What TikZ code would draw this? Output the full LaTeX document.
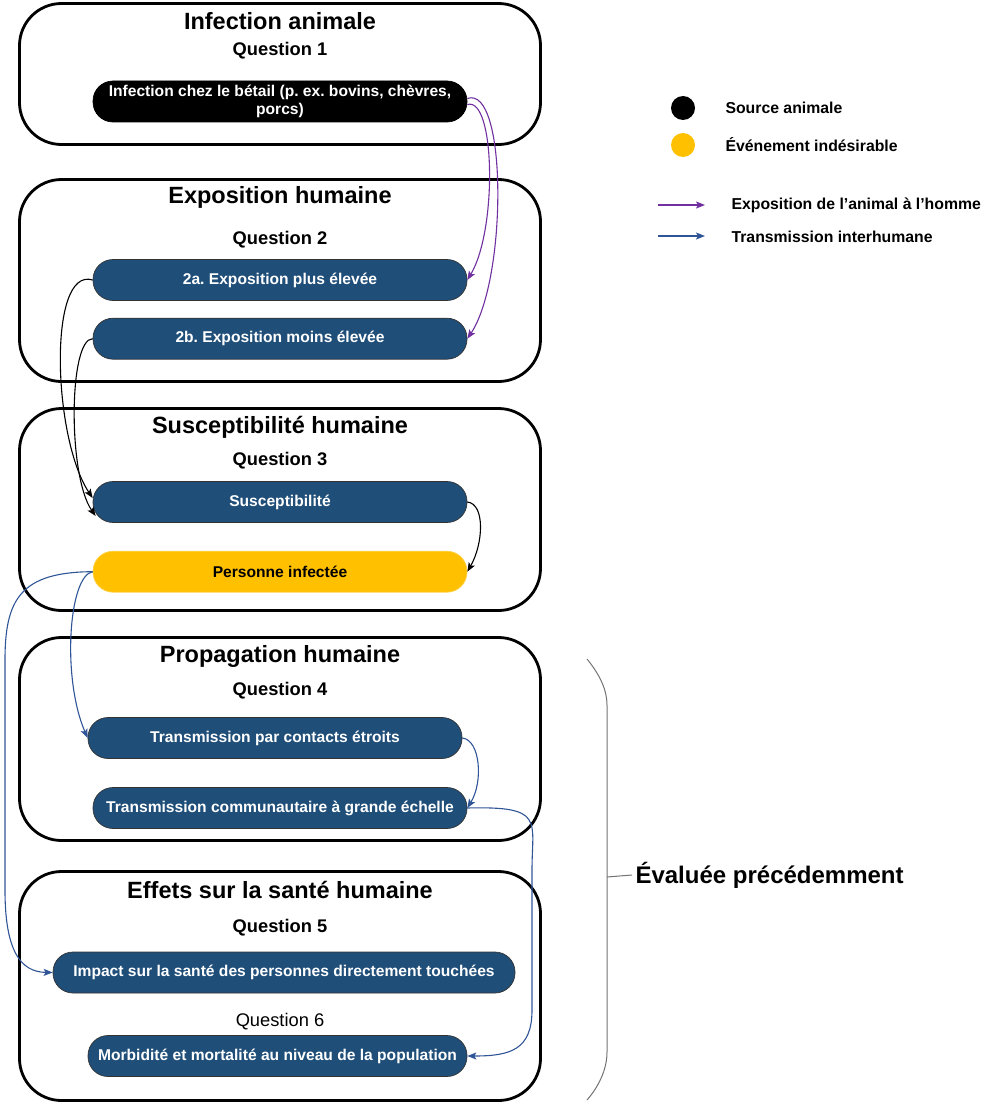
\documentclass[tikz,border=0pt]{standalone}
\usepackage{fontspec}
\setmainfont{Liberation Sans}
\usetikzlibrary{arrows.meta,positioning}
\definecolor{qblue}{HTML}{1F4E79}
\definecolor{qgold}{HTML}{FFC000}
\definecolor{qpurple}{HTML}{7030A0}
\definecolor{qarrow}{HTML}{2F5597}

\begin{document}
\frenchspacing
\begin{tikzpicture}[x=1pt,y=-1pt,>={Stealth[length=9pt,width=7pt,inset=2pt]},
    frame/.style={draw,line width=2.8pt,rounded corners=42pt,minimum width=521pt},
    title/.style={font=\fontsize{23.5}{27}\selectfont\bfseries},
    quest/.style={font=\fontsize{18.3}{21}\selectfont\bfseries},
    pill/.style={draw=black!80,line width=0.7pt,fill=qblue,text=white,rounded corners=20pt,
        minimum width=374pt,minimum height=41pt,inner sep=1pt,align=center,
        font=\fontsize{15.6}{17.5}\selectfont\bfseries},
    legend/.style={anchor=west,font=\fontsize{15.8}{18}\selectfont\bfseries},
    expo/.style={->,qpurple,line width=1.1pt},
    link/.style={->,black,line width=1.1pt},
    hum/.style={->,qarrow,line width=1.1pt}]
    \useasboundingbox (0,0) rectangle (988,1105);

    % boxes
    \node[frame,minimum height=141pt] (b1) at (280,74) {};
    \node[frame,minimum height=202pt] (b2) at (280,280.5) {};
    \node[frame,minimum height=202pt] (b3) at (280,509.5) {};
    \node[frame,minimum height=203pt] (b4) at (280,739) {};
    \node[frame,minimum height=229pt] (b5) at (280,986) {};

    % titles and questions
    \node[title] (t1) at (280,21) {Infection animale};
    \node[quest] (q1) at (280,51) {Question 1};
    \node[title] (t2) at (280,197) {Exposition humaine};
    \node[quest] (q2) at (280,240) {Question 2};
    \node[title] (t3) at (280,427) {Susceptibilité humaine};
    \node[quest] (q3) at (280,461) {Question 3};
    \node[title] (t4) at (280,656) {Propagation humaine};
    \node[quest] (q4) at (280,691) {Question 4};
    \node[title] (t5) at (280,890) {Effets sur la santé humaine};
    \node[quest] (q5) at (280,928) {Question 5};
    \node[font=\fontsize{18.3}{21}\selectfont] (q6) at (280,1022) {Question 6};

    % steps
    \node[pill,fill=black,draw=black] (1) at (280,101.5) {Infection chez le bétail (p. ex. bovins, chèvres,\\porcs)};
    \node[pill] (2a) at (280,280) {2a. Exposition plus élevée};
    \node[pill] [below=17pt of 2a] (2b) {2b. Exposition moins élevée};
    \node[pill] (3) at (280,502) {Susceptibilité};
    \node[pill,fill=qgold,draw=qgold!70,text=black] [below=28pt of 3] (3i) {Personne infectée};
    \node[pill] (4a) at (275,738) {Transmission par contacts étroits};
    \node[pill] (4b) at (280,808) {Transmission communautaire à grande échelle};
    \node[pill,minimum width=462pt] (5) at (284,972.5) {Impact sur la santé des personnes directement touchées};
    \node[pill,minimum width=379pt] (6) at (277.5,1056) {Morbidité et mortalité au niveau de la population};

    % connectors
    \draw[expo] ([yshift=3pt]1.east) .. controls +(40,-14) and +(40,-60) .. (2b.east);
    \draw[expo] ([yshift=-3pt]1.east) .. controls +(28,-8) and +(30,-50) .. (2a.east);
    \draw[link] (2a.west) .. controls +(-45,-14) and +(-40,-60) .. ([yshift=4pt]3.west);
    \draw[link] (2b.west) .. controls +(-24,0) and +(-28,-40) .. ([xshift=3pt,yshift=-14pt]3.west);
    \draw[link] (3.east) .. controls +(18,2) and +(16,-28) .. (3i.east);
    \draw[hum] (3i.west) .. controls +(-24,4) and +(-26,-60) .. (4a.west);
    \draw[hum] (3i.west) .. controls (20,572) and (5,600) .. (5,660)
        -- (5,890) .. controls (5,950) and (20,972) .. (5.west);
    \draw[hum] (4a.east) .. controls +(18,2) and +(16,-26) .. (4b.east);
    \draw[hum] (4b.east) .. controls (545,806) and (532,820) .. (532,870)
        -- (532,1010) .. controls (532,1050) and (510,1056) .. (6.east);

    % legend
    \node[circle,fill=black,minimum size=24pt,inner sep=0pt] (k1) at (683,108) {};
    \node[circle,fill=qgold,minimum size=24pt,inner sep=0pt] (k2) at (683,145) {};
    \node[legend] (l1) at (722,108) {Source animale};
    \node[legend] (l2) at (722,145) {Événement indésirable};
    \coordinate (a1) at (658,205);
    \coordinate (a2) at (658,236);
    \node[legend] (l3) at (728,205) {Exposition de l’animal à l’homme};
    \node[legend] (l4) at (728,237) {Transmission interhumane};
    \draw[expo] (a1) -- +(47,0);
    \draw[hum] (a2) -- +(47,0);

    % brace
    \draw[black!55,line width=1pt] (587,659) .. controls (600,675) and (607,690) .. (607,705)
        -- (607,1052) .. controls (607,1068) and (600,1085) .. (587,1100);
    \node[anchor=west,font=\fontsize{24}{28}\selectfont\bfseries] (ev) at (632,875) {Évaluée précédemment};
    \draw[black!55,line width=1pt] (607,877) -- (ev.west);
\end{tikzpicture}
\end{document}
